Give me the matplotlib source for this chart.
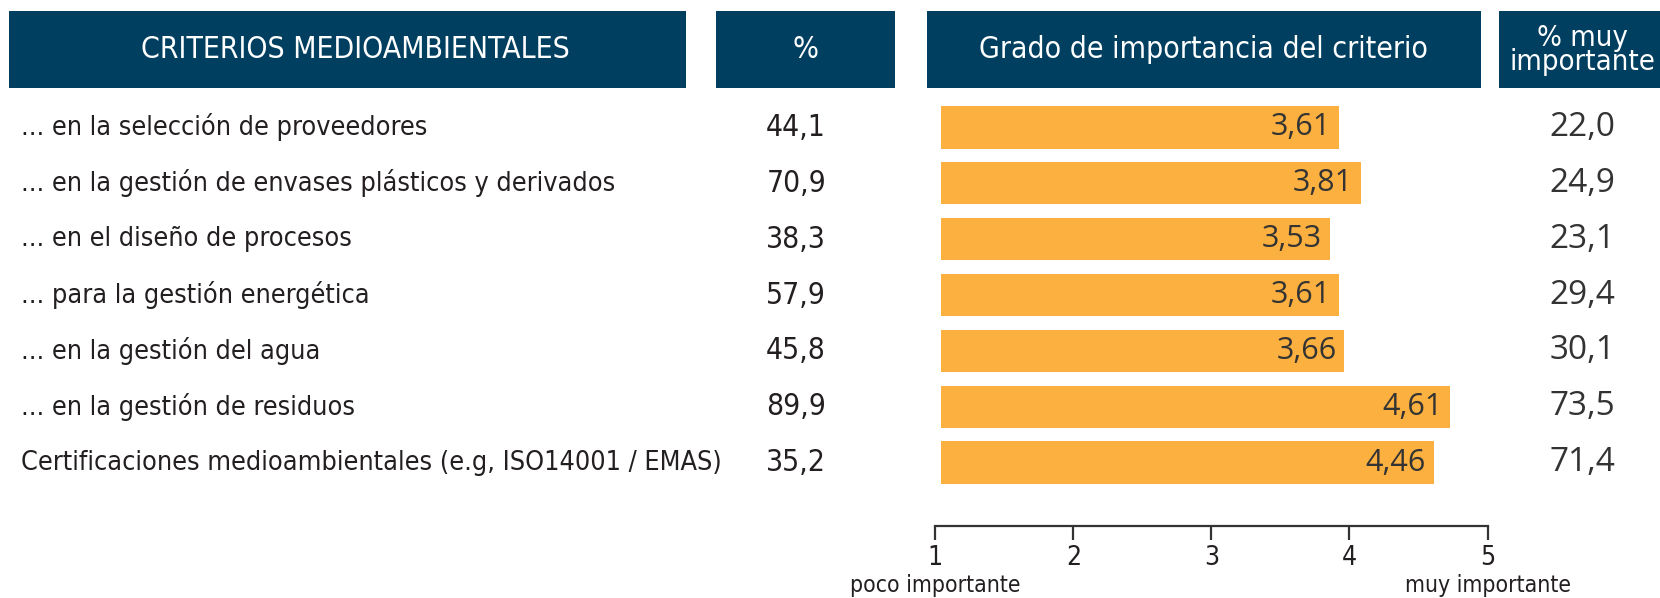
import matplotlib
matplotlib.use("Agg")
import matplotlib.pyplot as plt
from matplotlib import font_manager
from matplotlib.patches import Rectangle
from matplotlib.transforms import blended_transform_factory

# data
criterios = [
    "... en la selección de proveedores",
    "... en la gestión de envases plásticos y derivados",
    "... en el diseño de procesos",
    "... para la gestión energética",
    "... en la gestión del agua",
    "... en la gestión de residuos",
    "Certificaciones medioambientales (e.g, ISO14001 / EMAS)",
]
pct = [44.1, 70.9, 38.3, 57.9, 45.8, 89.9, 35.2]
grado = [3.61, 3.81, 3.53, 3.61, 3.66, 4.61, 4.46]
pct_muy = [22.0, 24.9, 23.1, 29.4, 30.1, 73.5, 71.4]
escala_ticks = [1, 2, 3, 4, 5]
escala_textos = ["poco importante", "muy importante"]
cabeceras = ["CRITERIOS MEDIOAMBIENTALES", "%", "Grado de importancia del criterio", "% muy\nimportante"]

NAVY = "#013F60"
ORANGE = "#FBB040"
TXT = "#231F20"

W, H = 1660, 598

names = {f.name for f in font_manager.fontManager.ttflist}
if "Liberation Sans Narrow" in names:
    COND = dict(family="Liberation Sans Narrow")
else:
    COND = dict(family="DejaVu Sans", stretch="condensed")
NUM = dict(family="Open Sans")


def fx(px):
    return px / W


def fy(py):
    return 1 - py / H


def es(v):
    return f"{v:.2f}".replace(".", ",") if v < 10 else f"{v:.1f}".replace(".", ",")


fig = plt.figure(figsize=(W / 100, H / 100), dpi=100)
fig.patch.set_facecolor("white")

# header boxes
boxes = [(8.5, 686), (716, 895), (927, 1481), (1499, 1700)]
for (x0, x1), txt in zip(boxes, cabeceras):
    fig.add_artist(Rectangle((fx(x0), fy(88)), fx(x1 - x0), (88 - 10.6) / H,
                             transform=fig.transFigure, facecolor=NAVY, edgecolor="none"))
sizes = [21.6, 22, 21.6, 21]
centers = [355, 805, 1203, 1582]
for txt, cx, sz in zip(cabeceras, centers, sizes):
    fig.text(fx(cx), fy(50), txt, color="white", fontsize=sz, ha="center", va="center",
             linespacing=0.8, **COND)

# bar axes: rows 0..6 from top
row_top, row_step = 127.3, 55.9
y_top_px = row_top - row_step / 2
y_bot_px = row_top + 6 * row_step + row_step / 2
ax = fig.add_axes([fx(940.6), fy(y_bot_px), fx(1480 - 940.6), (y_bot_px - y_top_px) / H])
ax.set_xlim(0.047, 0.047 + (1480 - 940.6) / 111.7)
ax.set_ylim(len(grado) - 0.5, -0.5)
ax.axis("off")
rows = list(range(len(grado)))
ax.barh(rows, grado, height=0.76, color=ORANGE, edgecolor="none")
for r, v in zip(rows, grado):
    ax.annotate(es(v), (v, r), xytext=(-5.5, 0), textcoords="offset points",
                ha="right", va="center", fontsize=22, color="#333333", **NUM)

# table columns share the bar rows
tr = blended_transform_factory(fig.transFigure, ax.transData)
for r, lab, p, m in zip(rows, criterios, pct, pct_muy):
    fig.text(fx(21), r, lab, transform=tr, ha="left", va="center", fontsize=19.4,
             color=TXT, **COND)
    fig.text(fx(826), r, es(p), transform=tr, ha="right", va="center", fontsize=21.5,
             color=TXT, **COND)
    fig.text(fx(1582), r, es(m), transform=tr, ha="center", va="center", fontsize=24,
             color="#333333", **NUM)

# rating scale below
ax2 = fig.add_axes([fx(935.4), fy(526), fx(1487.5 - 935.4), 0.0005])
ax2.set_xlim(escala_ticks[0], escala_ticks[-1])
ax2.set_yticks([])
for s in ["top", "left", "right"]:
    ax2.spines[s].set_visible(False)
ax2.spines["bottom"].set_linewidth(1.6)
ax2.spines["bottom"].set_color("#333333")
ax2.set_xticks(escala_ticks)
ax2.set_xticklabels([str(t) for t in escala_ticks])
ax2.tick_params(axis="x", direction="out", length=10, width=1.6, color="#333333",
                pad=4, labelsize=19, labelcolor=TXT)
for lbl in ax2.get_xticklabels():
    lbl.set_fontfamily(COND["family"])
    if "stretch" in COND:
        lbl.set_fontstretch(COND["stretch"])
for xv, txt in zip([escala_ticks[0], escala_ticks[-1]], escala_textos):
    ax2.annotate(txt, (xv, 0), xycoords=("data", "axes fraction"), xytext=(0, -43),
                 textcoords="offset points", ha="center", va="center", fontsize=16.5,
                 color=TXT, annotation_clip=False, **COND)

fig.savefig("out.png", dpi=100, facecolor="white")
